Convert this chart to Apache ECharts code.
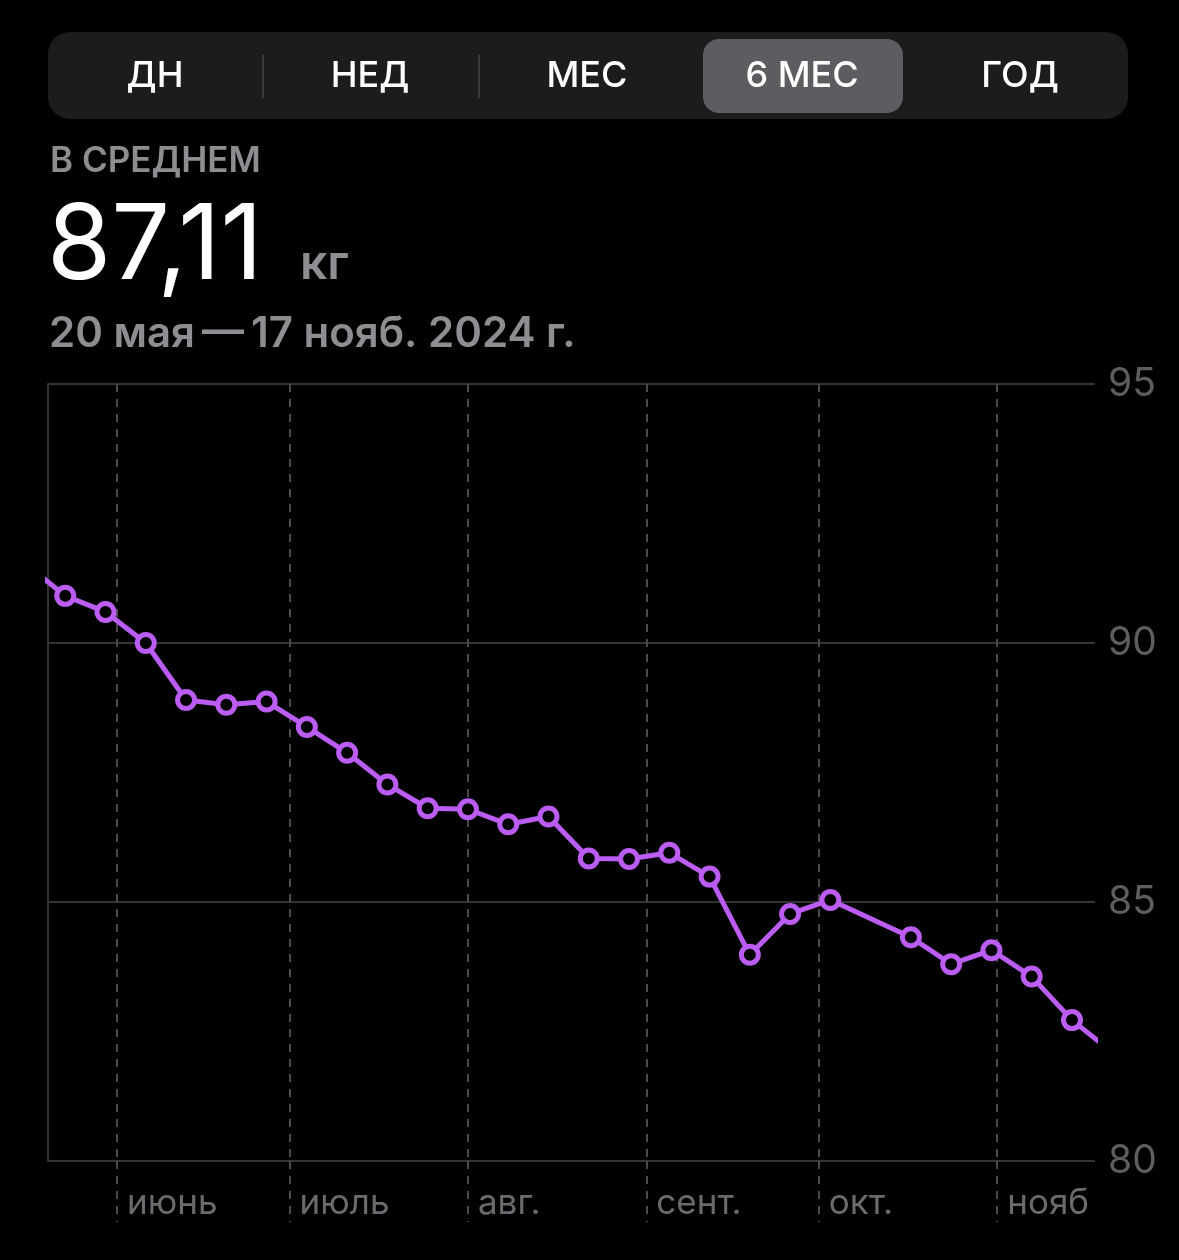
<!DOCTYPE html>
<html>
<head>
<meta charset="utf-8">
<script src="https://cdn.jsdelivr.net/npm/echarts@6/dist/echarts.min.js"></script>
<style>
html,body{margin:0;padding:0;background:#000;}
#chart{width:1179px;height:1260px;}
</style>
</head>
<body>
<div id="chart"></div>
<script>
// ---- data ----
const rangeStart = '2024-05-20';
const rangeEnd = '2024-11-18';
const weekDates = ['2024-05-16','2024-05-23','2024-05-30','2024-06-06','2024-06-13','2024-06-20','2024-06-27',
  '2024-07-04','2024-07-11','2024-07-18','2024-07-25','2024-08-01','2024-08-08','2024-08-15','2024-08-22',
  '2024-08-29','2024-09-05','2024-09-12','2024-09-19','2024-09-26','2024-10-03','2024-10-10','2024-10-17',
  '2024-10-24','2024-10-31','2024-11-07','2024-11-14','2024-11-21'];
const weights = [91.54,90.91,90.60,90.00,88.90,88.81,88.87,88.38,87.88,87.27,86.81,86.79,86.50,86.65,85.84,
  85.83,85.95,85.49,83.98,84.77,85.04,null,84.32,83.80,84.07,83.56,82.72,82.10];
const monthStarts = ['2024-06-01','2024-07-01','2024-08-01','2024-09-01','2024-10-01','2024-11-01'];
const monthLabels = ['июнь','июль','авг.','сент.','окт.','нояб'];
const yTicks = [80, 85, 90, 95];
const segments = ['ДН','НЕД','МЕС','6 МЕС','ГОД'];
const averageText = '87,11';
const unitText = 'кг';
const headerLabel = 'В СРЕДНЕМ';
const periodText = '20 мая\u2009—\u200917 нояб. 2024 г.';

// ---- helpers ----
const DAY = 86400000;
const t0 = Date.parse(rangeStart + 'T00:00:00Z');
const dayOf = s => Math.round((Date.parse(s + 'T00:00:00Z') - t0) / DAY);
const xMax = dayOf(rangeEnd);
const monthDays = monthStarts.map(dayOf);
const labelByDay = {};
monthDays.forEach((d, i) => { labelByDay[d] = monthLabels[i]; });
const seriesData = [];
weekDates.forEach((d, i) => { if (weights[i] != null) seriesData.push([dayOf(d), weights[i]]); });

const FONT = 'Inter, "Noto Sans", sans-serif';
const purple = '#bb5cf2';
const gridColor = '#343436';
const dashColor = '#4a4a4c';
const gray = '#8d8d92';

const segCenters = [155, 370, 587, 802, 1020];
const graphics = [
  { type: 'rect', shape: { x: 48, y: 32, width: 1080, height: 87, r: 22 }, style: { fill: '#1c1c1e' } },
  { type: 'rect', shape: { x: 703, y: 39, width: 200, height: 74, r: 16 }, style: { fill: '#5d5d61' } },
  { type: 'line', shape: { x1: 263, y1: 55, x2: 263, y2: 98 }, style: { stroke: '#3a3a3c', lineWidth: 2 } },
  { type: 'line', shape: { x1: 479, y1: 55, x2: 479, y2: 98 }, style: { stroke: '#3a3a3c', lineWidth: 2 } },
  { type: 'text', x: 50, y: 161, style: { text: headerLabel, font: '600 35px ' + FONT, fill: gray, verticalAlign: 'middle' } },
  { type: 'text', x: 47, y: 248, style: { text: averageText, font: '400 104px ' + FONT, fill: '#ffffff', verticalAlign: 'middle' } },
  { type: 'text', x: 300, y: 265, style: { text: unitText, font: '600 48px ' + FONT, fill: gray, verticalAlign: 'middle' } },
  { type: 'text', x: 49, y: 334, style: { text: periodText, font: '600 42px ' + FONT, fill: gray, verticalAlign: 'middle' } }
];
segments.forEach((s, i) => {
  graphics.push({ type: 'text', x: segCenters[i], y: 76,
    style: { text: s, font: '500 36px ' + FONT, fill: '#ffffff', align: 'center', verticalAlign: 'middle' } });
});

const chart = echarts.init(document.getElementById('chart'), null, { renderer: 'canvas' });
chart.setOption({
  backgroundColor: '#000000',
  animation: false,
  graphic: graphics,
  grid: { left: 48, right: 84, top: 384, bottom: 99, containLabel: false },
  xAxis: {
    type: 'value', min: 0, max: xMax,
    axisLine: { show: false },
    axisTick: { show: true, customValues: monthDays, length: 61, inside: false,
      lineStyle: { color: dashColor, width: 2, type: [8, 7] } },
    splitLine: { show: true, lineStyle: { color: dashColor, width: 2, type: [8, 7] } },
    axisLabel: { show: true, customValues: monthDays, formatter: v => labelByDay[v] || '',
      align: 'left', verticalAlign: 'middle', margin: 42, padding: [0, 0, 0, 10],
      color: '#6b6b6f', fontSize: 35, fontFamily: FONT, hideOverlap: false }
  },
  yAxis: [
    {
      type: 'value', position: 'right', min: 80, max: 95, interval: 5,
      axisLine: { show: false }, axisTick: { show: false },
      splitLine: { show: true, lineStyle: { color: gridColor, width: 2 } },
      axisLabel: { color: '#5e5e62', fontSize: 39, fontFamily: FONT, margin: 13,
        customValues: yTicks }
    },
    {
      type: 'value', position: 'left', min: 80, max: 95, interval: 5,
      axisLine: { show: true, lineStyle: { color: gridColor, width: 2 } },
      axisTick: { show: false }, axisLabel: { show: false }, splitLine: { show: false }
    }
  ],
  series: [{
    type: 'line', yAxisIndex: 0, data: seriesData, clip: true,
    lineStyle: { color: purple, width: 5 },
    symbol: 'circle', symbolSize: 17, showAllSymbol: true,
    itemStyle: { color: '#000000', borderColor: purple, borderWidth: 5 },
    z: 5
  }]
});
</script>
</body>
</html>
